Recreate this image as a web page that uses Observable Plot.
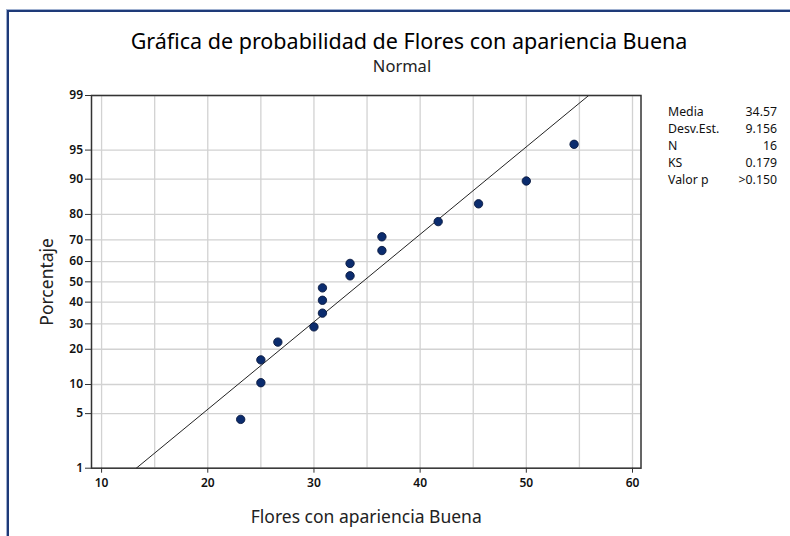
<!DOCTYPE html>
<html>
<head>
<meta charset="utf-8">
<script src="https://cdn.jsdelivr.net/npm/d3@7"></script>
<script src="https://cdn.jsdelivr.net/npm/@observablehq/plot@0.6"></script>
<style>
  html, body { margin: 0; padding: 0; background: #fff; }
  #wrap { position: relative; width: 790px; height: 536px; overflow: hidden; font-family: "Noto Sans", "Open Sans", sans-serif; color: #111; }
  #border { position: absolute; left: 7px; top: 10px; width: 900px; height: 700px; border-top: 2px solid #1e3a78; border-left: 2px solid #1e3a78; box-shadow: -1px -1px 0 #9fb0d0; }
  #chart { position: absolute; left: 0; top: 0; }
  .title { position: absolute; left: 409px; top: 26px; transform: translateX(-50%); font-size: 21.5px; font-weight: 400; white-space: nowrap; color: #000; }
  .subtitle { position: absolute; left: 402px; top: 54px; transform: translateX(-50%); font-size: 16.5px; white-space: nowrap; color: #222; }
  .stats { position: absolute; left: 668px; top: 103px; width: 109px; font-size: 12.3px; color: #111; }
  .stats .row { display: flex; justify-content: space-between; height: 17px; line-height: 17px; }
  g[aria-label="x-axis label"] text, g[aria-label="y-axis label"] text { font-size: 17.5px; fill: #222; font-weight: 400; }
</style>
</head>
<body>
<div id="wrap">
  <div id="border"></div>
  <div id="chart"></div>
  <div class="title">Gráfica de probabilidad de Flores con apariencia Buena</div>
  <div class="subtitle">Normal</div>
  <div class="stats" id="stats"></div>
</div>
<script>
// ---- Data ----
const flores = [23.1, 25.0, 25.0, 26.6, 30.0, 30.8, 30.8, 30.8, 33.4, 33.4, 36.4, 36.4, 41.7, 45.5, 50.0, 54.5];
const porcentaje = [4.3, 10.4, 16.5, 22.6, 28.7, 34.8, 40.9, 47.0, 53.0, 59.1, 65.2, 71.3, 77.4, 83.5, 89.6, 95.7];
const fitX = [13.27, 55.87];
const fitP = [1, 99];
const yTicks = [1, 5, 10, 20, 30, 40, 50, 60, 70, 80, 90, 95, 99];
const xTicks = [10, 20, 30, 40, 50, 60];
const xGrid = [10, 15, 20, 25, 30, 35, 40, 45, 50, 55, 60];
const statLabels = ["Media", "Desv.Est.", "N", "KS", "Valor p"];
const statValues = ["34.57", "9.156", "16", "0.179", ">0.150"];

// inverse normal CDF (probability scale)
function probit(p) {
  const a=[-3.969683028665376e+01,2.209460984245205e+02,-2.759285104469687e+02,1.383577518672690e+02,-3.066479806614716e+01,2.506628277459239e+00];
  const b=[-5.447609879822406e+01,1.615858368580409e+02,-1.556989798598866e+02,6.680131188771972e+01,-1.328068155288572e+01];
  const c=[-7.784894002430293e-03,-3.223964580411365e-01,-2.400758277161838e+00,-2.549732539343734e+00,4.374664141464968e+00,2.938163982698783e+00];
  const d=[7.784695709041462e-03,3.224671290700398e-01,2.445134137142996e+00,3.754408661907416e+00];
  const pl = 0.02425, ph = 1 - pl;
  let q, r;
  if (p < pl) { q = Math.sqrt(-2*Math.log(p)); return (((((c[0]*q+c[1])*q+c[2])*q+c[3])*q+c[4])*q+c[5])/((((d[0]*q+d[1])*q+d[2])*q+d[3])*q+1); }
  if (p <= ph) { q = p - 0.5; r = q*q; return (((((a[0]*r+a[1])*r+a[2])*r+a[3])*r+a[4])*r+a[5])*q/(((((b[0]*r+b[1])*r+b[2])*r+b[3])*r+b[4])*r+1); }
  q = Math.sqrt(-2*Math.log(1-p)); return -(((((c[0]*q+c[1])*q+c[2])*q+c[3])*q+c[4])*q+c[5])/((((d[0]*q+d[1])*q+d[2])*q+d[3])*q+1);
}
const z = pct => probit(pct / 100);

const points = flores.map((x, i) => ({x, z: z(porcentaje[i])}));
const fit = fitX.map((x, i) => ({x, z: z(fitP[i])}));
const yTickZ = yTicks.map(z);

const chart = Plot.plot({
  width: 790,
  height: 536,
  marginLeft: 91,
  marginRight: 149.5,
  marginTop: 95,
  marginBottom: 68.3,
  style: {fontFamily: "'Noto Sans', 'Open Sans', sans-serif", background: "transparent", color: "#111"},
  x: {domain: [9.05, 60.8]},
  y: {domain: [yTickZ[0], yTickZ[yTickZ.length - 1]]},
  marks: [
    Plot.gridX(xGrid, {stroke: "#d2d2d2", strokeOpacity: 1, strokeWidth: 1.3}),
    Plot.gridY(yTickZ, {stroke: "#d2d2d2", strokeOpacity: 1, strokeWidth: 1.3}),
    Plot.line(fit, {x: "x", y: "z", stroke: "#222", strokeWidth: 1}),
    Plot.dot(points, {x: "x", y: "z", r: 4.2, fill: "#0b2c6e", stroke: "#0a1a3f", strokeWidth: 0.9}),
    Plot.axisX(xTicks, {tickSize: 5, tickPadding: 5, fontSize: 12, fontWeight: 600, stroke: "#333", fill: "#111",
      label: "Flores con apariencia Buena", labelAnchor: "center", labelArrow: "none", labelOffset: 55}),
    Plot.axisY(yTickZ, {tickSize: 6, tickPadding: 2.5, fontSize: 12, fontWeight: 600, stroke: "#333", fill: "#111",
      tickFormat: (d, i) => yTicks[i],
      label: "Porcentaje", labelAnchor: "center", labelArrow: "none", labelOffset: 51}),
    Plot.frame({stroke: "#333", strokeWidth: 1.5})
  ]
});
document.getElementById("chart").appendChild(chart);

const stats = document.getElementById("stats");
statLabels.forEach((l, i) => {
  const row = document.createElement("div");
  row.className = "row";
  row.innerHTML = `<span>${l}</span><span>${statValues[i]}</span>`;
  stats.appendChild(row);
});
</script>
</body>
</html>
